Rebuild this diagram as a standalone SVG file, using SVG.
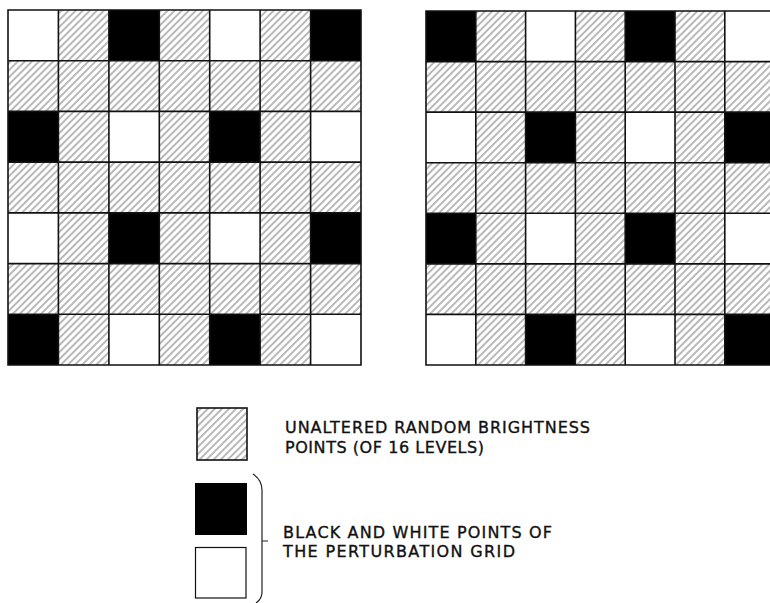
<svg xmlns="http://www.w3.org/2000/svg" width="770" height="603" viewBox="0 0 770 603">
<defs>
<pattern id="hatch" patternUnits="userSpaceOnUse" width="5" height="5" patternTransform="rotate(45)">
<line x1="1" y1="-1" x2="1" y2="6" stroke="#8a8a8a" stroke-width="1.2"/>
</pattern>
<style>
.h{fill:url(#hatch)}
.b{fill:#000}
.w{fill:#fff}
.g{fill:none;stroke:#111;stroke-width:1.6}
.t{font-family:"DejaVu Sans","Liberation Sans",sans-serif;font-size:16px;fill:#111;stroke:#111;stroke-width:0.35}
</style>
</defs>
<rect width="770" height="603" fill="#fff"/>
<g id="grid-left">
<rect class="h" x="8" y="10" width="353" height="355"/>
<rect class="w" x="8" y="10" width="50.4" height="50.7"/>
<rect class="b" x="108.9" y="10" width="50.4" height="50.7"/>
<rect class="w" x="209.7" y="10" width="50.4" height="50.7"/>
<rect class="b" x="310.6" y="10" width="50.4" height="50.7"/>
<rect class="b" x="8" y="111.4" width="50.4" height="50.7"/>
<rect class="w" x="108.9" y="111.4" width="50.4" height="50.7"/>
<rect class="b" x="209.7" y="111.4" width="50.4" height="50.7"/>
<rect class="w" x="310.6" y="111.4" width="50.4" height="50.7"/>
<rect class="w" x="8" y="212.9" width="50.4" height="50.7"/>
<rect class="b" x="108.9" y="212.9" width="50.4" height="50.7"/>
<rect class="w" x="209.7" y="212.9" width="50.4" height="50.7"/>
<rect class="b" x="310.6" y="212.9" width="50.4" height="50.7"/>
<rect class="b" x="8" y="314.3" width="50.4" height="50.7"/>
<rect class="w" x="108.9" y="314.3" width="50.4" height="50.7"/>
<rect class="b" x="209.7" y="314.3" width="50.4" height="50.7"/>
<rect class="w" x="310.6" y="314.3" width="50.4" height="50.7"/>
<path class="g" d="M8 10H361V365H8Z M58.4 10V365 M108.9 10V365 M159.3 10V365 M209.7 10V365 M260.1 10V365 M310.6 10V365 M8 60.7H361 M8 111.4H361 M8 162.1H361 M8 212.9H361 M8 263.6H361 M8 314.3H361"/>
</g>
<g id="grid-right">
<rect class="h" x="426" y="11" width="350" height="354"/>
<rect class="b" x="426" y="11" width="49.8" height="50.6"/>
<rect class="w" x="525.6" y="11" width="49.8" height="50.6"/>
<rect class="b" x="625.2" y="11" width="49.8" height="50.6"/>
<rect class="w" x="724.8" y="11" width="49.8" height="50.6"/>
<rect class="w" x="426" y="112.1" width="49.8" height="50.6"/>
<rect class="b" x="525.6" y="112.1" width="49.8" height="50.6"/>
<rect class="w" x="625.2" y="112.1" width="49.8" height="50.6"/>
<rect class="b" x="724.8" y="112.1" width="49.8" height="50.6"/>
<rect class="b" x="426" y="213.3" width="49.8" height="50.6"/>
<rect class="w" x="525.6" y="213.3" width="49.8" height="50.6"/>
<rect class="b" x="625.2" y="213.3" width="49.8" height="50.6"/>
<rect class="w" x="724.8" y="213.3" width="49.8" height="50.6"/>
<rect class="w" x="426" y="314.4" width="49.8" height="50.6"/>
<rect class="b" x="525.6" y="314.4" width="49.8" height="50.6"/>
<rect class="w" x="625.2" y="314.4" width="49.8" height="50.6"/>
<rect class="b" x="724.8" y="314.4" width="49.8" height="50.6"/>
<path class="g" d="M776 11H426V365H776 M475.8 11V365 M525.6 11V365 M575.4 11V365 M625.2 11V365 M675 11V365 M724.8 11V365 M426 61.6H776 M426 112.1H776 M426 162.7H776 M426 213.3H776 M426 263.9H776 M426 314.4H776"/>
</g>
<g id="legend-hatched">
<rect class="h" x="197" y="408" width="50" height="52"/>
<rect class="g" x="197" y="408" width="50" height="52" stroke-width="1.2"/>
<text class="t" x="285" y="433" textLength="305" lengthAdjust="spacing">UNALTERED RANDOM BRIGHTNESS</text>
<text class="t" x="285" y="453" textLength="199" lengthAdjust="spacing">POINTS (OF 16 LEVELS)</text>
</g>
<g id="legend-bw">
<rect class="b" x="195" y="483" width="52" height="52"/>
<rect class="w" x="195.5" y="547.5" width="50.5" height="50.5" stroke="#111" stroke-width="1.2"/>
<path fill="none" stroke="#222" stroke-width="1.2" d="M253 474Q262 480 262 490V592Q262 599 256 603 M262 541H268"/>
<text class="t" x="283" y="538" textLength="269" lengthAdjust="spacing">BLACK AND WHITE POINTS OF</text>
<text class="t" x="283" y="557" textLength="232" lengthAdjust="spacing">THE PERTURBATION GRID</text>
</g>
</svg>
